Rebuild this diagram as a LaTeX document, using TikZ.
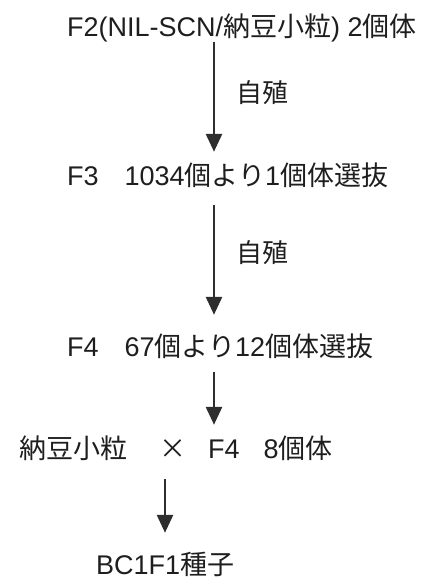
\documentclass[tikz,border=0pt]{standalone}
\usepackage{fontspec}
\setmainfont{Liberation Sans}
\newfontfamily\jp{Noto Sans CJK JP}
\usetikzlibrary{arrows.meta}
\definecolor{ink}{HTML}{1E1E1E}
\definecolor{arrowc}{HTML}{2E2E2E}
\tikzset{
  txt/.style={anchor=base west, inner sep=0pt, text height=20pt, text depth=4pt, text=ink, font=\fontsize{27}{31}\selectfont},
  lbl/.style={anchor=west, inner sep=0pt, text=ink, font=\fontsize{26}{30}\selectfont\jp},
  arr/.style={draw=arrowc, line width=2.8pt, -{Triangle[length=18pt,width=16pt]}}
}
\begin{document}
\begin{tikzpicture}[x=1pt,y=1pt]
\useasboundingbox (0,0) rectangle (423,581);
\coordinate (colA) at (214,0);
\coordinate (colB) at (165,0);
\node[txt] (t1) at (67,544) {F2(NIL-SCN/{\jp 納豆小粒}) 2{\jp 個体}};
\node[txt] (t2) at (67,395) {F3\hspace{26pt}1034{\jp 個より}1{\jp 個体選抜}};
\node[txt] (t3) at (67,224) {F4\hspace{26pt}67{\jp 個より}12{\jp 個体選抜}};
\node[txt] (t4) at (19,122) {{\jp 納豆小粒}\hspace{32pt}{\jp ×}\hspace{22pt}F4\hspace{24pt}8{\jp 個体}};
\node[txt] (t5) at (96,6) {BC1F1{\jp 種子}};
\node[lbl] (l1) at (236,488) {自殖};
\node[lbl] (l2) at (236,328) {自殖};
\draw[arr, shorten <=1pt, shorten >=14pt] (t1.south -| colA) -- (t2.north -| colA);
\draw[arr, shorten <=15pt, shorten >=22pt] (t2.south -| colA) -- (t3.north -| colA);
\draw[arr, shorten <=11pt, shorten >=14pt] (t3.south -| colA) -- (t4.north -| colA);
\draw[arr, shorten <=16pt, shorten >=22pt] (t4.south -| colB) -- (t5.north -| colB);
\end{tikzpicture}
\end{document}
